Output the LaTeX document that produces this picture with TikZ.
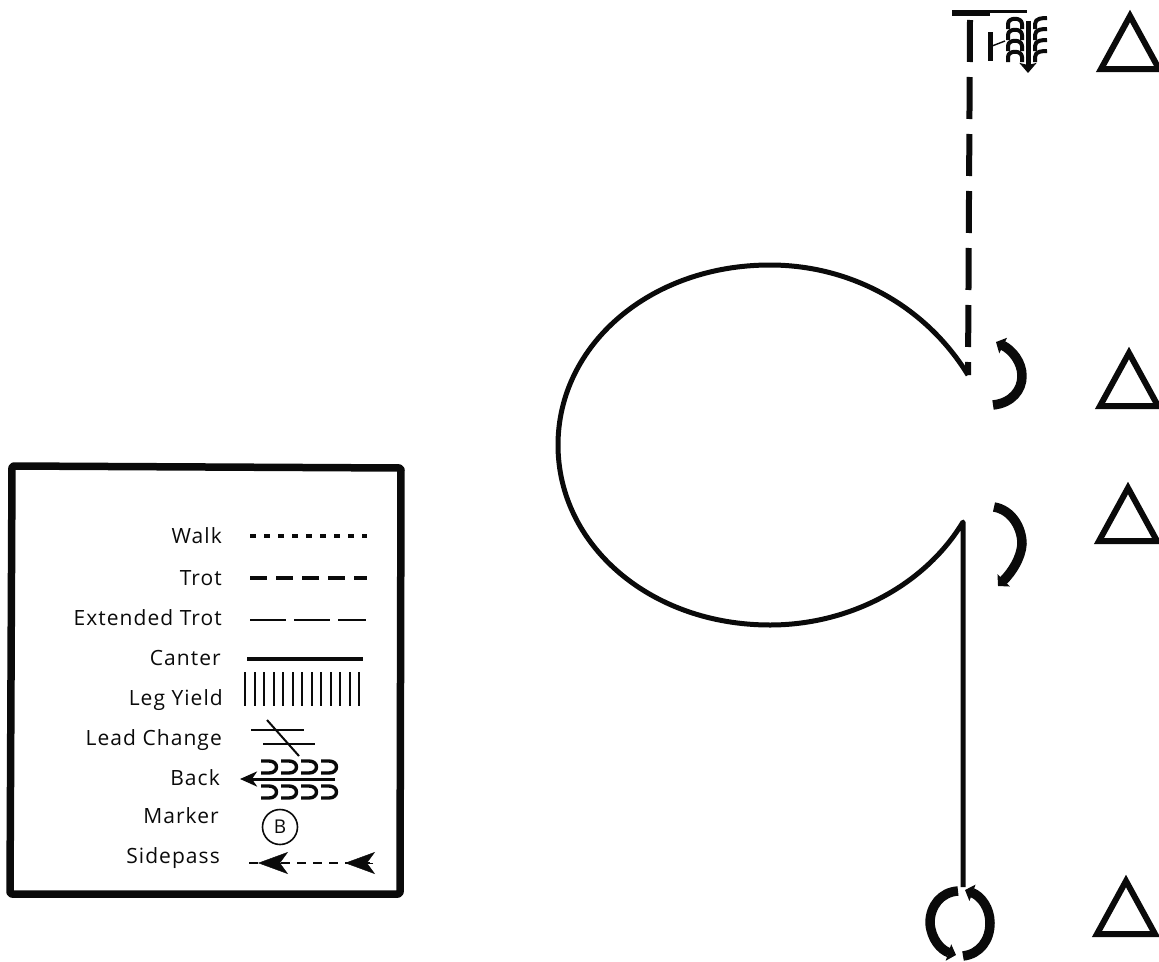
\documentclass[tikz,border=0pt]{standalone}
\usepackage{fontspec}
\setmainfont{Open Sans}
\newfontfamily\legendfont[LetterSpace=5]{Open Sans}
\usetikzlibrary{arrows.meta}
\definecolor{ink}{HTML}{0A0A0A}
\tikzset{el/.style={line cap=butt, line join=round}}

\begin{document}
\begin{tikzpicture}[el, x=1pt, y=-1pt, ink,
     lab/.style={anchor=base east, font=\legendfont\fontsize{21}{24}\selectfont, inner sep=0pt},
     cone/.style={line width=6pt, line join=miter},
     turn/.style={line width=9.5pt, -{Stealth[length=8pt, width=17pt, inset=0pt]}},
     track/.style={line width=3.6pt},
     fine/.style={line width=2pt},
     tip/.style={-{Stealth[length=30pt, width=22pt, inset=8pt]}}]
  \useasboundingbox (0,0) rectangle (1159,961);
  % legend
  \draw[line width=7.5pt, rounded corners=2pt] (12,466) -- (401,468) -- (400,894) -- (10,894) -- cycle;
  \node[lab] (walk) at (222,543) {Walk};
  \node[lab] (trot) at (222,585) {Trot};
  \node[lab] (ext) at (222,625) {Extended Trot};
  \node[lab] (canter) at (221,665) {Canter};
  \node[lab] (yield) at (223,705) {Leg Yield};
  \node[lab] (lead) at (222,745) {Lead Change};
  \node[lab] (back) at (220,785) {Back};
  \node[lab] (mark) at (219,823) {Marker};
  \node[lab] (side) at (220,863) {Sidepass};
  \draw[line width=3.6pt, dash pattern=on 6pt off 8pt] (250,536) -- (367,536);
  \draw[track, dash pattern=on 17pt off 9pt] (250,578) -- (367,578);
  \draw[line width=2.4pt, dash pattern=on 36pt off 8pt] (250,620) -- (366,620);
  \draw[line width=3.2pt] (247,659) -- (363,659);
  \foreach \x in {0,...,12} \draw[fine] (245+9.5*\x,672) -- (245+9.5*\x,706);
  \draw[fine] (251,730) -- (304,730);
  \draw[fine] (263,744) -- (315,744);
  \draw[fine] (267,720) -- (299,756);
  \draw[line width=3pt, -{Stealth[length=17pt, width=15pt, inset=5pt]}] (335,779) -- (240,779);
  \foreach \x in {261,281,301,321} {
     \draw[line width=3.4pt] (\x,761) -- ++(8,0) .. controls +(10,0) and +(10,0) .. ++(0,12) -- ++(-8,0);
     \draw[line width=3.4pt] (\x,786) -- ++(8,0) .. controls +(10,0) and +(10,0) .. ++(0,12) -- ++(-8,0);
  }
  \node[draw, circle, line width=1.6pt, minimum size=35pt, inner sep=0pt, font=\legendfont\fontsize{19}{22}\selectfont] (b) at (280,827) {B};
  \draw[line width=2.8pt, dash pattern=on 9pt off 7pt] (249,863) -- (370,863);
  \draw[tip] (288,863) -- (258,863);
  \draw[tip] (373,863) -- (345,863);
  % pattern
  \draw[line width=6pt, dash pattern=on 42pt off 15pt] (970,20) -- (968,375);
  \draw[line width=5pt] (968,375) .. controls (925,305) and (850,265) .. (770,265)
     .. controls (650,265) and (558,345) .. (558,445)
     .. controls (558,545) and (650,625) .. (770,625)
     .. controls (850,625) and (925,585) .. (963,522) -- (963,887);
  % back up at the top
  \draw[line width=3pt] (953,11) -- (1027,11);
  \draw[line width=6pt] (952,13) -- (990,13);
  \draw[line width=5pt] (990,32) -- (990,61);
  \draw[line width=1.4pt] (992,46) -- (1005,41);
  \draw[line width=5pt, -{Stealth[length=10pt, width=17pt, inset=2pt]}] (1028,21) -- (1028,73);
  \foreach \y in {29,40,51,62} {
     \draw[line width=4pt] (1008,\y) -- ++(0,-5) .. controls +(0,-7) and +(0,-7) .. ++(14,0) -- ++(0,5);
     \draw[line width=4pt] (1035,\y) -- ++(0,-5) .. controls +(0,-6) and +(-4,0) .. ++(12,-6);
  }
  % turns
  \draw[turn] (993,405) .. controls (1012,403) and (1022,390) .. (1022,376) .. controls (1022,362) and (1012,350) .. (996,342);
  \draw[turn] (994,507) .. controls (1012,510) and (1022,528) .. (1022,544) .. controls (1021,558) and (1012,572) .. (998,586);
  \draw[turn] (958,891) .. controls (941,892) and (930,906) .. (930,923) .. controls (931,939) and (941,950) .. (956,955);
  \draw[turn] (963,956) .. controls (980,954) and (990,940) .. (990,923) .. controls (990,908) and (981,896) .. (965,890);
  % cones
  \foreach \x/\y in {1130/16,1129/353,1128/488,1126/881}
     \draw[cone] (\x,\y) -- ++(-29,53) -- ++(58,0) -- cycle;
\end{tikzpicture}
\end{document}
